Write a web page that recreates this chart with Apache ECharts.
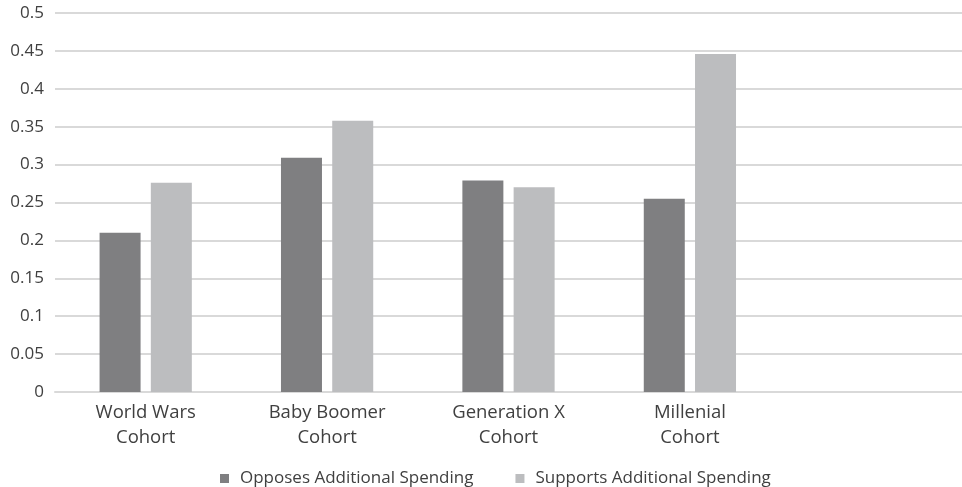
<!DOCTYPE html>
<html>
<head>
<meta charset="utf-8">
<script src="https://cdn.jsdelivr.net/npm/echarts@6/dist/echarts.min.js"></script>
<style>
html, body { margin: 0; padding: 0; background: #fff; }
#chart { width: 962px; height: 487px; }
</style>
</head>
<body>
<div id="chart"></div>
<script>
// 类目（最后一个为空）
var categories = ['World Wars\nCohort', 'Baby Boomer\nCohort', 'Generation X\nCohort', 'Millenial\nCohort', ''];
var opposes = [0.21, 0.309, 0.279, 0.255, null];
var supports = [0.276, 0.358, 0.270, 0.446, null];
var seriesNames = ['Opposes Additional Spending', 'Supports Additional Spending'];

var font = 'Open Sans';
var myChart = echarts.init(document.getElementById('chart'));
var option = {
	animation : false,
	grid : {
		left : 55,
		right : 0,
		top : 13,
		bottom : 95
	},
	legend : {
		data : seriesNames,
		top : 465,
		left : 215,
		icon : 'rect',
		itemWidth : 9,
		itemHeight : 9,
		itemGap : 42,
		textStyle : {
			fontFamily : font,
			fontSize : 17,
			color : '#404040',
			padding : [ 0, 0, 0, 6 ]
		}
	},
	xAxis : {
		type : 'category',
		data : categories,
		axisLine : {
			lineStyle : {
				color : '#d9d9d9',
				width : 2
			}
		},
		axisTick : {
			show : false
		},
		axisLabel : {
			fontFamily : font,
			fontSize : 18.5,
			color : '#404040',
			lineHeight : 25,
			margin : 8,
			interval : 0
		}
	},
	yAxis : {
		type : 'value',
		min : 0,
		max : 0.5,
		interval : 0.05,
		axisLabel : {
			fontFamily : font,
			fontSize : 17,
			color : '#404040',
			margin : 11,
			formatter : function(v) {
				return String(Math.round(v * 100) / 100);
			}
		},
		splitLine : {
			lineStyle : {
				color : '#d9d9d9',
				width : 2
			}
		}
	},
	series : [ {
		name : seriesNames[0],
		type : 'bar',
		data : opposes,
		barWidth : 41,
		barGap : '25%',
		itemStyle : {
			color : '#7f7f81'
		}
	}, {
		name : seriesNames[1],
		type : 'bar',
		data : supports,
		barWidth : 41,
		barGap : '25%',
		itemStyle : {
			color : '#bcbdbf'
		}
	} ]
};
myChart.setOption(option);
</script>
</body>
</html>
